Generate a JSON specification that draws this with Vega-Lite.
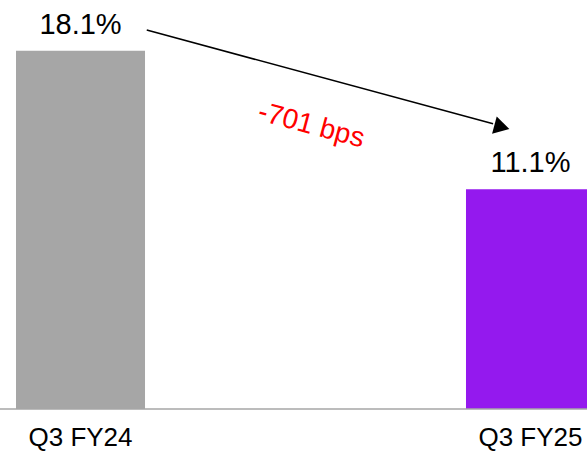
{
  "$schema": "https://vega.github.io/schema/vega-lite/v6.json",
  "width": 587,
  "height": 409,
  "autosize": {"type": "none"},
  "padding": {"top": 0, "left": 0, "right": 0, "bottom": 45},
  "background": "white",
  "config": {"view": {"stroke": null}, "font": "Liberation Sans"},
  "layer": [
    {
      "data": {"values": [
        {"period": "Q3 FY24", "value": 18.1, "label": "18.1%"},
        {"period": "Q3 FY25", "value": 11.1, "label": "11.1%"}
      ]},
      "encoding": {
        "x": {"field": "period", "type": "nominal", "sort": null,
          "scale": {"range": [16, 595], "paddingInner": 0.7133, "paddingOuter": 0},
          "axis": {"title": null, "labelAngle": 0, "ticks": false, "domain": false, "labelFontSize": 26, "labelColor": "black", "labelFont": "Liberation Sans", "labelPadding": 15}},
        "y": {"field": "value", "type": "quantitative", "scale": {"domain": [0, 20.66], "nice": false, "zero": true}, "axis": null}
      },
      "layer": [
        {"mark": {"type": "bar"},
          "encoding": {"color": {"field": "period", "type": "nominal", "scale": {"range": ["#A6A6A6", "#9419EE"]}, "legend": null}}},
        {"mark": {"type": "text", "baseline": "alphabetic", "dy": -17, "fontSize": 29, "font": "Liberation Sans", "color": "black"},
          "encoding": {"text": {"field": "label"}}}
      ]
    },
    {
      "data": {"values": [{}]},
      "mark": {"type": "rule", "color": "#A6A6A6", "strokeWidth": 1.5},
      "encoding": {"y": {"datum": 0, "type": "quantitative", "scale": {"domain": [0, 20.66], "nice": false}}}
    },
    {
      "data": {"values": [
        {"x": 0.25, "y": 19.14, "x2": 0.84, "y2": 14.41, "ax": 0.855, "ay": 14.24, "tx": 0.53, "ty": 14.3, "note": "-701 bps"}
      ]},
      "layer": [
        {"mark": {"type": "rule", "color": "black", "strokeWidth": 1.5},
          "encoding": {
            "x": {"field": "x", "type": "quantitative", "scale": {"domain": [0, 1], "nice": false, "zero": false}, "axis": null},
            "x2": {"field": "x2"},
            "y": {"field": "y", "type": "quantitative", "scale": {"domain": [0, 20.66], "nice": false}},
            "y2": {"field": "y2"}
          }},
        {"mark": {"type": "point", "shape": "triangle-right", "filled": true, "color": "black", "size": 320, "angle": 15, "opacity": 1},
          "encoding": {
            "x": {"field": "ax", "type": "quantitative", "scale": {"domain": [0, 1], "nice": false, "zero": false}, "axis": null},
            "y": {"field": "ay", "type": "quantitative", "scale": {"domain": [0, 20.66], "nice": false}}
          }},
        {"mark": {"type": "text", "color": "#FF0000", "fontSize": 28, "angle": 15, "align": "center", "baseline": "middle", "font": "Liberation Sans"},
          "encoding": {
            "x": {"field": "tx", "type": "quantitative", "scale": {"domain": [0, 1], "nice": false, "zero": false}, "axis": null},
            "y": {"field": "ty", "type": "quantitative", "scale": {"domain": [0, 20.66], "nice": false}},
            "text": {"field": "note"}
          }}
      ]
    }
  ],
  "resolve": {"scale": {"x": "independent", "color": "independent"}}
}
